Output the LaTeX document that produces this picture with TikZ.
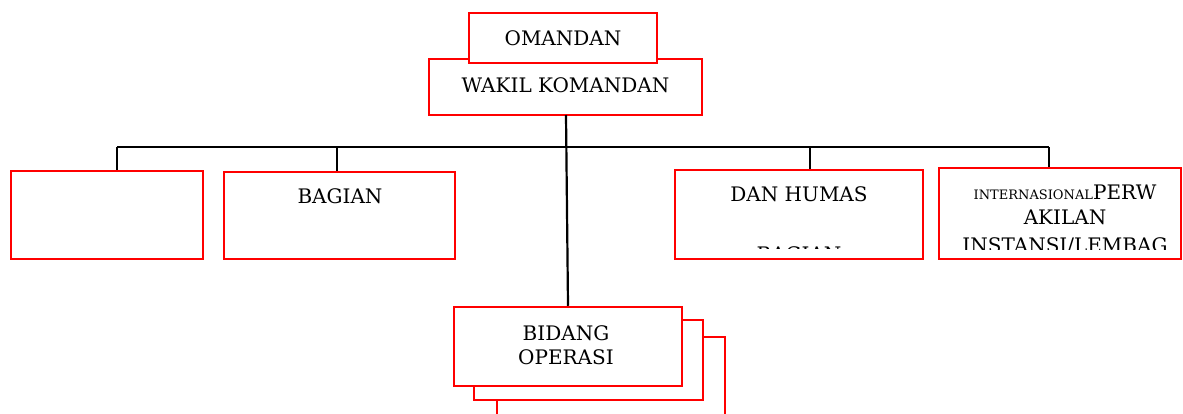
\documentclass[tikz,border=0pt]{standalone}
\usepackage{fontspec}
\setmainfont{DejaVu Serif}
\begin{document}
\begin{tikzpicture}[x=1pt,y=-1pt,
  box/.style={draw=red,line width=2.5pt,fill=white,inner sep=0pt},
  conn/.style={draw=black,line width=2.2pt},
  txt/.style={inner sep=0pt,font=\fontsize{20}{24}\selectfont,align=center}]
\useasboundingbox (0,0) rectangle (1183,413);
\begin{scope}
\clip (0,0) rectangle (1183,413);
% org chart lines
\coordinate (hl) at (117,147);
\coordinate (hr) at (1049,147);
% boxes
\node[box,minimum width=273pt,minimum height=56pt] (wakil) at (565.5,87) {};
\node[box,minimum width=188pt,minimum height=50pt] (omandan) at (563,38) {};
\node[txt,anchor=base] (omandantxt) at (563,45) {OMANDAN};
\node[txt,anchor=base] (wakiltxt) at (565.5,92) {WAKIL KOMANDAN};
\draw[conn] (hl) -- (hr);
\node[box,minimum width=192pt,minimum height=88pt] (b1) at (107,215) {};
\node[box,minimum width=231pt,minimum height=87pt] (b2) at (339.5,215.5) {};
\node[box,minimum width=248pt,minimum height=89pt] (b3) at (799,214.5) {};
\node[box,minimum width=242pt,minimum height=91pt] (b4) at (1060,213.5) {};
\draw[conn] (hl) -- (b1.north -| hl);
\draw[conn] (337,147) -- (b2.north -| 337,0);
\draw[conn] (810,147) -- (b3.north -| 810,0);
\draw[conn] (hr) -- (b4.north -| hr);
\node[txt,anchor=base] (bagiantxt) at (340,203) {BAGIAN};
\node[txt,anchor=base] (humastxt) at (799,201) {DAN HUMAS};
\begin{scope}
\clip (680,170) rectangle (920,248.5);
\node[txt,anchor=base] (humas2) at (799,261) {BAGIAN};
\end{scope}
\begin{scope}
\clip (942,170) rectangle (1180,249);
\node[txt,anchor=base] (int1) at (1065,199) {{\fontsize{13}{15}\selectfont INTERNASIONAL}PERW};
\node[txt,anchor=base] (int2) at (1065,224) {AKILAN};
\node[txt,anchor=base] (int3) at (1065,252) {INSTANSI/LEMBAG};
\end{scope}
% bidang operasi stack
\draw[red,line width=2.5pt,fill=white] (497,420) -- (497,337) -- (725,337) -- (725,420);
\node[box,minimum width=229pt,minimum height=80pt] (bid2) at (588.5,360) {};
\node[box,minimum width=228pt,minimum height=79pt] (bid) at (568,346.5) {};
\node[txt,anchor=base] (bidtxt) at (566,340) {BIDANG};
\node[txt,anchor=base] (bidtxt2) at (566,364) {OPERASI};
\draw[conn] (566,115) -- (bid.north);
\end{scope}
\end{tikzpicture}
\end{document}
